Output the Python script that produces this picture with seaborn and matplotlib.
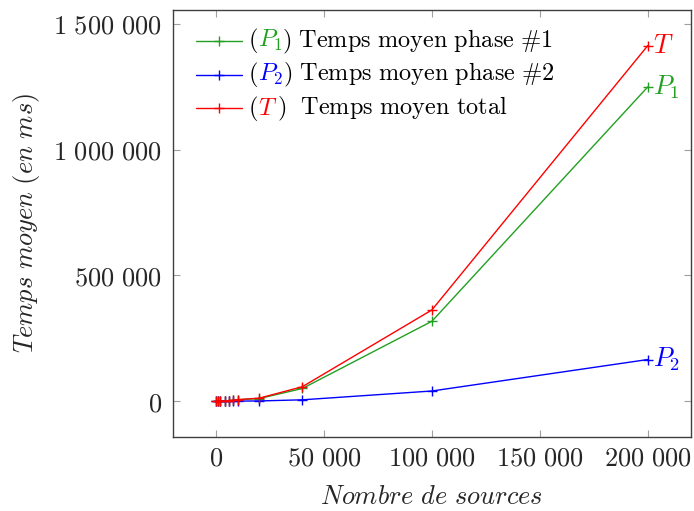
import numpy as np
import pandas as pd
import seaborn as sns
import matplotlib.pyplot as plt
from matplotlib.lines import Line2D
from matplotlib.ticker import FixedLocator, FuncFormatter
from matplotlib.offsetbox import AnchoredOffsetbox, HPacker, VPacker, TextArea, DrawingArea

# data
sources = [100, 1000, 2000, 4000, 6000, 8000, 10000, 20000, 40000, 100000, 200000]
phase1 = [10, 150, 400, 1200, 2500, 4000, 6000, 11000, 51000, 318000, 1249000]
phase2 = [5, 50, 100, 250, 400, 600, 800, 1500, 6000, 41000, 166000]
total = [15, 200, 500, 1450, 2900, 4600, 6800, 12500, 58000, 363000, 1413000]

series = ['P1', 'P2', 'T']
colors = {'P1': '#22a022', 'P2': '#0000ff', 'T': '#ff0000'}
end_labels = {'P1': r'$P_1$', 'P2': r'$P_2$', 'T': r'$T$'}
legend_desc = {'P1': r'$\mathrm{)\ Temps\ moyen\ phase\ \#1}$',
               'P2': r'$\mathrm{)\ Temps\ moyen\ phase\ \#2}$',
               'T': r'$\mathrm{)\ \ Temps\ moyen\ total}$'}

df = pd.DataFrame({
    'sources': sources * 3,
    'temps': phase1 + phase2 + total,
    'serie': ['P1'] * len(sources) + ['P2'] * len(sources) + ['T'] * len(sources),
})

sns.set_style('ticks')
plt.rcParams['mathtext.fontset'] = 'cm'
plt.rcParams['font.family'] = ['DejaVu Serif']
fs = 19
fs_leg = 17.5

fig = plt.figure(figsize=(6.94, 5.11), dpi=100)
ax = fig.add_axes([0.249, 0.145, 0.7467, 0.8355])

sns.lineplot(data=df, x='sources', y='temps', hue='serie', palette=colors,
             marker='+', markersize=7.5, markeredgewidth=1, linewidth=1,
             legend=False, ax=ax)
# seaborn draws white marker edges; give the crosses the line colour
for ln in ax.lines:
    ln.set_markeredgecolor(ln.get_color())

ax.set_xlim(-20000, 220000)
ax.set_ylim(-141300, 1554300)

def fmt(v, pos):
    v = int(round(v))
    s = f'{v:,}'.replace(',', r'\ ')
    return f'${s}$'

ax.xaxis.set_major_locator(FixedLocator([0, 50000, 100000, 150000, 200000]))
ax.yaxis.set_major_locator(FixedLocator([0, 500000, 1000000, 1500000]))
ax.xaxis.set_major_formatter(FuncFormatter(fmt))
ax.yaxis.set_major_formatter(FuncFormatter(fmt))
ax.tick_params(direction='in', length=5, width=0.8, color='#a0a0a0',
               top=True, right=True, labelsize=fs)
ax.tick_params(axis='x', pad=6)
ax.tick_params(axis='y', pad=8)
for sp in ax.spines.values():
    sp.set_color('#404040')
    sp.set_linewidth(1)

ax.set_xlabel(r'$Nombre\ de\ sources$', fontsize=fs, labelpad=10)
ax.set_ylabel(r'$Temps\ moyen\ (en\ ms)$', fontsize=fs, labelpad=8)

# labels at the end of each curve
last = {'P1': phase1[-1], 'P2': phase2[-1], 'T': total[-1]}
for s in series:
    ax.annotate(end_labels[s], xy=(sources[-1], last[s]), xytext=(4, 0),
                textcoords='offset points', ha='left', va='center',
                color=colors[s], fontsize=fs)

# legend with coloured series names
rows = []
for s in series:
    da = DrawingArea(33, 10, 0, 0)
    da.add_artist(Line2D([0, 33], [5, 5], color=colors[s], lw=1))
    da.add_artist(Line2D([16.5], [5], color=colors[s], marker='+',
                         markersize=7.5, markeredgewidth=1))
    tp = dict(fontsize=fs_leg)
    txt = HPacker(children=[TextArea(r'$\mathrm{(}$', textprops=dict(tp, color='black')),
                            TextArea(end_labels[s], textprops=dict(tp, color=colors[s])),
                            TextArea(legend_desc[s], textprops=dict(tp, color='black'))],
                  pad=0, sep=0, align='baseline')
    rows.append(HPacker(children=[da, txt], pad=0, sep=4, align='center'))
box = VPacker(children=rows, pad=0, sep=3, align='left')
leg = AnchoredOffsetbox(loc='upper left', child=box, frameon=False, pad=0,
                        borderpad=0, bbox_to_anchor=(0.045, 0.962),
                        bbox_transform=ax.transAxes)
ax.add_artist(leg)

fig.savefig('out.png', dpi=100)
